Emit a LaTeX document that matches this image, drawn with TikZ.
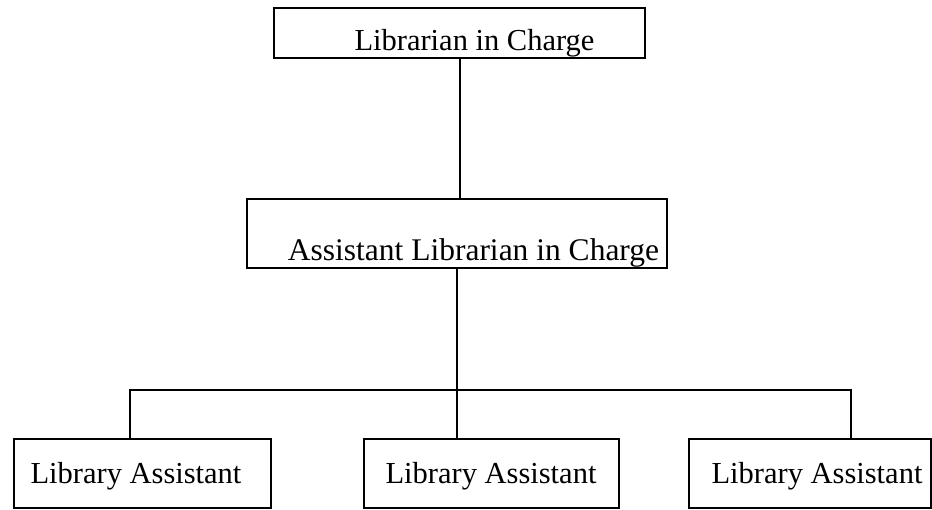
\documentclass[tikz,border=0pt]{standalone}
\usepackage{fontspec}
\setmainfont{Liberation Serif}
\begin{document}
\begin{tikzpicture}[x=1pt,y=-1pt,
  box/.style={draw, line width=2.2pt, inner sep=0pt, anchor=north west},
  lbl/.style={anchor=base, inner sep=0pt, font=\fontsize{30.5}{34}\selectfont},
  wire/.style={line width=2pt}]
\useasboundingbox (0,0) rectangle (932,509);

% boxes
\node[box, minimum width=371pt, minimum height=50pt] (top) at (273,7) {};
\node[box, minimum width=420pt, minimum height=69pt] (mid) at (246,198) {};
\node[box, minimum width=257pt, minimum height=69pt] (la) at (13,438) {};
\node[box, minimum width=255pt, minimum height=69pt] (lb) at (363,438) {};
\node[box, minimum width=242pt, minimum height=69pt] (lc) at (688,438) {};

% labels
\node[lbl] (ttop) at (474.5,50) {Librarian in Charge};
\node[lbl, font=\fontsize{31.5}{35}\selectfont] (tmid) at (473.5,260) {Assistant Librarian in Charge};
\node[lbl] (tla) at (136,483) {Library Assistant};
\node[lbl] (tlb) at (491,483) {Library Assistant};
\node[lbl] (tlc) at (817,483) {Library Assistant};

% connectors
\coordinate (bus) at (458,390);
\coordinate (dl) at (130,390);
\coordinate (dr) at (851,390);
\draw[wire] (top.south) -- (top.south |- mid.north);
\draw[wire] (mid.south) -- (mid.south |- bus);
\draw[wire, line cap=rect] (dl) -- (dr);
\draw[wire] (dl) -- (dl |- la.north);
\draw[wire] (mid.south |- bus) -- (mid.south |- lb.north);
\draw[wire] (dr) -- (dr |- lc.north);
\end{tikzpicture}
\end{document}
